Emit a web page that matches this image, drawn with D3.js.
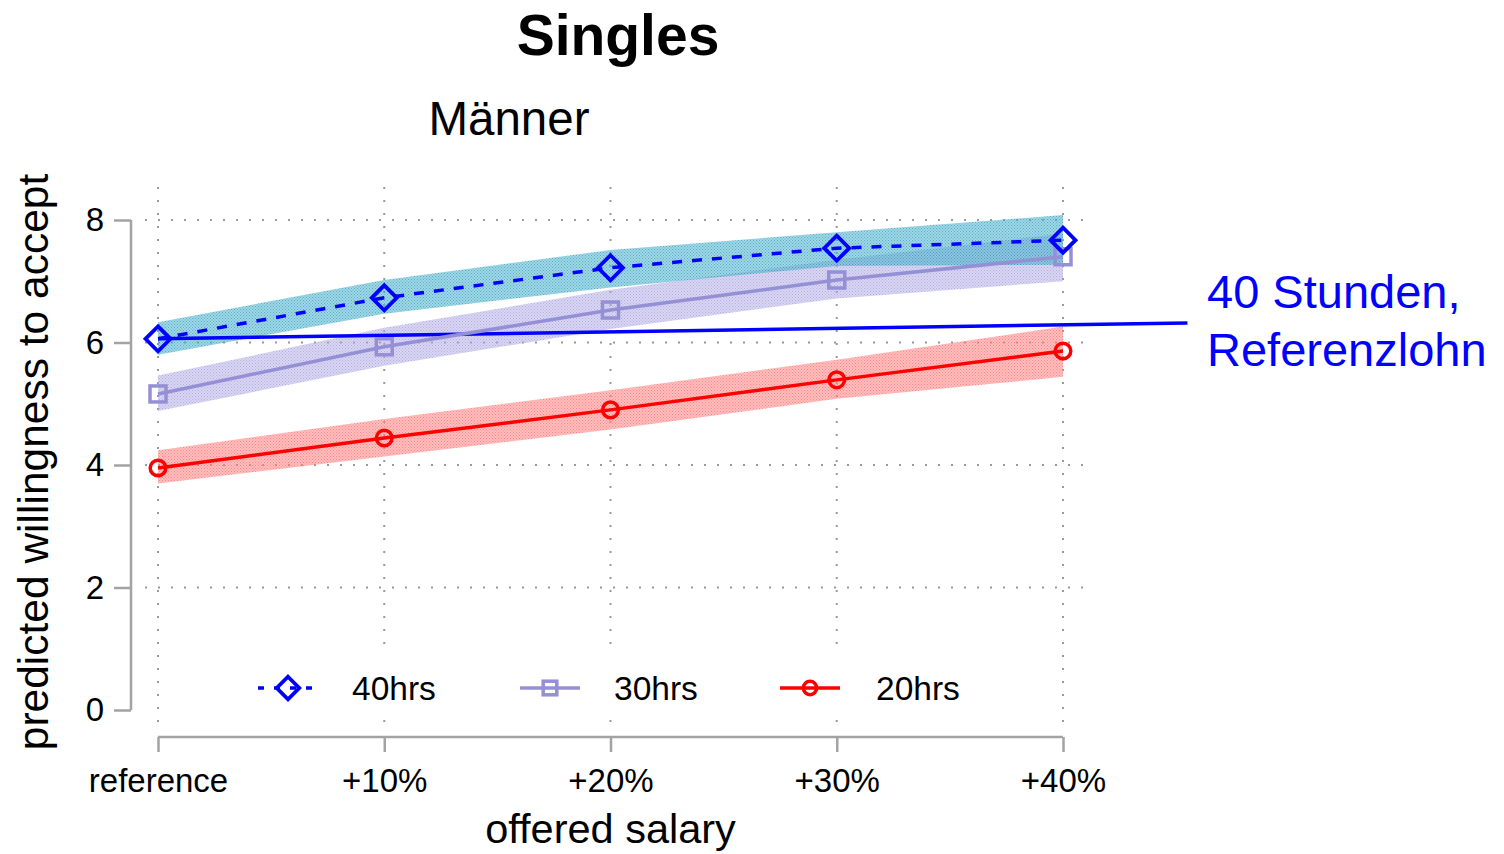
<!DOCTYPE html>
<html>
<head>
<meta charset="utf-8">
<script src="https://cdn.jsdelivr.net/npm/d3@7"></script>
<style>
  html, body { margin: 0; padding: 0; background: #fff; }
  svg { display: block; font-family: "Liberation Sans", Arial, sans-serif; }
</style>
</head>
<body>
<svg id="chart" width="1504" height="854"></svg>
<script>
// ---------- data ----------
const categories = ["reference", "+10%", "+20%", "+30%", "+40%"];
const yTicks = [0, 2, 4, 6, 8];

const h40   = [6.06, 6.73, 7.22, 7.54, 7.67];
const h40lo = [5.80, 6.47, 6.90, 7.25, 7.27];
const h40hi = [6.33, 7.02, 7.51, 7.80, 8.08];

const h30   = [5.16, 5.93, 6.53, 7.02, 7.40];
const h30lo = [4.88, 5.62, 6.22, 6.72, 7.00];
const h30hi = [5.46, 6.24, 6.86, 7.35, 7.78];

const h20   = [3.95, 4.44, 4.90, 5.39, 5.86];
const h20lo = [3.70, 4.14, 4.58, 5.08, 5.44];
const h20hi = [4.24, 4.75, 5.22, 5.72, 6.26];

const seriesNames = ["40hrs", "30hrs", "20hrs"];
// reference line: from reference/40hrs to the label (x in category index units)
const refLineX = [0, 4.55];
const refLineY = [6.06, 6.32];
const refLabel = ["40 Stunden,", "Referenzlohn"];

// ---------- layout ----------
const svg = d3.select("#chart");
const x = d3.scaleLinear().domain([0, categories.length - 1]).range([158, 1063]);
const y = d3.scaleLinear().domain([0, 8]).range([710, 220]);

const defs = svg.append("defs");
function makePattern(id, bg, bgOp, dot, dotOp) {
  const p = defs.append("pattern").attr("id", id).attr("width", 3).attr("height", 3)
    .attr("patternUnits", "userSpaceOnUse");
  p.append("rect").attr("width", 3).attr("height", 3).attr("fill", bg).attr("fill-opacity", bgOp);
  p.append("rect").attr("width", 1).attr("height", 1).attr("fill", dot).attr("fill-opacity", dotOp);
  p.append("rect").attr("x", 1.5).attr("y", 1.5).attr("width", 1).attr("height", 1).attr("fill", dot).attr("fill-opacity", dotOp);
}
makePattern("pat40", "#4fb6cf", 0.55, "#2f8fb0", 0.6);
makePattern("pat30", "#b4aee6", 0.5, "#8f87d6", 0.5);
makePattern("pat20", "#ff8a8a", 0.55, "#ff5050", 0.5);

// gridlines
const gridG = svg.append("g").attr("stroke", "#999").attr("stroke-width", 2)
  .attr("stroke-dasharray", "2,11");
yTicks.filter(v => v > 0).forEach(v => {
  gridG.append("line").attr("x1", 145).attr("x2", 1085).attr("y1", y(v)).attr("y2", y(v));
});
categories.forEach((c, i) => {
  gridG.append("line").attr("x1", x(i)).attr("x2", x(i)).attr("y1", 187).attr("y2", 726);
});

// axes
const axisCol = "#a3a3a3";
const yAxis = d3.axisLeft(y).tickValues(yTicks).tickSize(17).tickPadding(10).tickFormat(d3.format("d"));
const gy = svg.append("g").attr("transform", "translate(131,0)").call(yAxis);
gy.select(".domain").remove();
gy.append("line").attr("x1", 0).attr("x2", 0).attr("y1", y(8)).attr("y2", y(0))
  .attr("stroke", axisCol).attr("stroke-width", 2.5);
gy.selectAll(".tick line").attr("stroke", axisCol).attr("stroke-width", 2.5);
gy.selectAll(".tick text").attr("font-size", 33).attr("fill", "#000")
  .attr("font-family", "Liberation Sans, Arial, sans-serif");

const xAxis = d3.axisBottom(x).tickValues(d3.range(categories.length)).tickSize(15).tickPadding(17)
  .tickFormat(i => categories[i]);
const gx = svg.append("g").attr("transform", "translate(0,737)").call(xAxis);
gx.select(".domain").remove();
gx.append("line").attr("x1", x(0)).attr("x2", x(4)).attr("y1", 0).attr("y2", 0)
  .attr("stroke", axisCol).attr("stroke-width", 2.5);
gx.selectAll(".tick line").attr("stroke", axisCol).attr("stroke-width", 2.5);
gx.selectAll(".tick text").attr("font-size", 33).attr("fill", "#000")
  .attr("font-family", "Liberation Sans, Arial, sans-serif");

// bands
const area = d3.area().x((d, i) => x(i)).y0(d => y(d[0])).y1(d => y(d[1]));
const bands = [
  {lo: h30lo, hi: h30hi, pat: "pat30"},
  {lo: h20lo, hi: h20hi, pat: "pat20"},
  {lo: h40lo, hi: h40hi, pat: "pat40"}
];
bands.forEach(b => {
  svg.append("path").datum(b.lo.map((v, i) => [v, b.hi[i]]))
    .attr("d", area).attr("fill", `url(#${b.pat})`);
});

// reference line
svg.append("line")
  .attr("x1", x(refLineX[0])).attr("y1", y(refLineY[0]))
  .attr("x2", x(refLineX[1])).attr("y2", y(refLineY[1]))
  .attr("stroke", "#0000ff").attr("stroke-width", 3.5);

const line = d3.line().x((d, i) => x(i)).y(d => y(d));
const series = [
  {name: "30hrs", vals: h30, color: "#9590d6", dash: null, marker: "square"},
  {name: "20hrs", vals: h20, color: "#ff0000", dash: null, marker: "circle"},
  {name: "40hrs", vals: h40, color: "#0000ff", dash: "10,10", marker: "diamond"}
];

function drawMarker(g, type, cx, cy, color, scale) {
  const s = scale || 1;
  if (type === "diamond") {
    const r = 12.5 * s;
    g.append("path").attr("d", `M${cx},${cy - r}L${cx + r},${cy}L${cx},${cy + r}L${cx - r},${cy}Z`)
      .attr("fill", "none").attr("stroke", color).attr("stroke-width", 3.8);
  } else if (type === "square") {
    const h = 8 * s;
    g.append("rect").attr("x", cx - h).attr("y", cy - h).attr("width", 2 * h).attr("height", 2 * h)
      .attr("fill", "none").attr("stroke", color).attr("stroke-width", 3.5);
  } else {
    g.append("circle").attr("cx", cx).attr("cy", cy).attr("r", 7.8 * s)
      .attr("fill", "none").attr("stroke", color).attr("stroke-width", 3.5);
  }
}

series.forEach(s => {
  svg.append("path").datum(s.vals).attr("d", line).attr("fill", "none")
    .attr("stroke", s.color).attr("stroke-width", 3.5)
    .attr("stroke-dasharray", s.dash);
  const g = svg.append("g");
  s.vals.forEach((v, i) => drawMarker(g, s.marker, x(i), y(v), s.color));
});

// legend
const leg = svg.append("g");
leg.append("rect").attr("x", 240).attr("y", 648).attr("width", 745).attr("height", 72).attr("fill", "#fff");
const legItems = [
  {name: seriesNames[0], color: "#0000ff", dash: "6,10", marker: "diamond", x0: 258, tx: 352},
  {name: seriesNames[1], color: "#9590d6", dash: null, marker: "square", x0: 520, tx: 614},
  {name: seriesNames[2], color: "#ff0000", dash: null, marker: "circle", x0: 780, tx: 876}
];
legItems.forEach(it => {
  const ly = 688;
  leg.append("line").attr("x1", it.x0).attr("x2", it.x0 + 60).attr("y1", ly).attr("y2", ly)
    .attr("stroke", it.color).attr("stroke-width", 3.5).attr("stroke-dasharray", it.dash);
  drawMarker(leg, it.marker, it.x0 + 30, ly, it.color, it.marker === "diamond" ? 0.9 : 0.85);
  leg.append("text").attr("x", it.tx).attr("y", ly + 12).attr("font-size", 33.5).text(it.name);
});

// annotation text
svg.append("text").attr("x", 1207).attr("y", 308).attr("font-size", 47).attr("fill", "#0000ff").text(refLabel[0]);
svg.append("text").attr("x", 1207).attr("y", 366).attr("font-size", 47).attr("fill", "#0000ff").text(refLabel[1]);

// titles
svg.append("text").attr("x", 618).attr("y", 55).attr("text-anchor", "middle")
  .attr("font-size", 57).attr("font-weight", "bold").text("Singles");
svg.append("text").attr("x", 509).attr("y", 135).attr("text-anchor", "middle")
  .attr("font-size", 47.5).text("Männer");
svg.append("text").attr("x", x(2)).attr("y", 843).attr("text-anchor", "middle")
  .attr("font-size", 41.5).text("offered salary");
svg.append("text").attr("transform", `translate(48,${(y(0) + y(8)) / 2 - 3}) rotate(-90)`)
  .attr("text-anchor", "middle").attr("font-size", 42.5).text("predicted willingness to accept");
</script>
</body>
</html>
